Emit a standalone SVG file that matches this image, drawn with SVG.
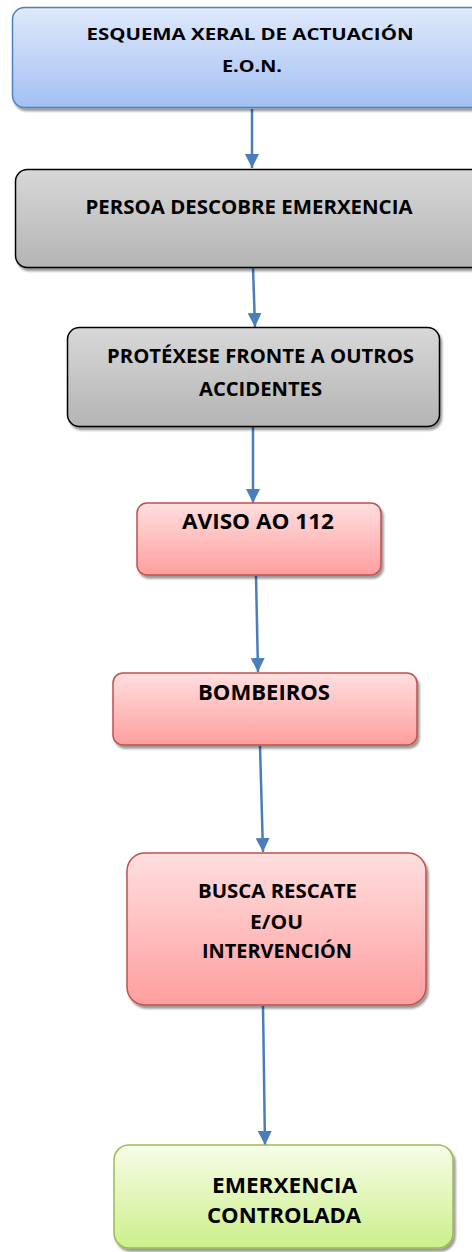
<svg xmlns="http://www.w3.org/2000/svg" width="472" height="1252" viewBox="0 0 472 1252">
<style>
  .t { font-family: "Open Sans", "Liberation Sans", sans-serif; font-weight: bold; fill: #000; text-anchor: middle; }
  .c { stroke: #4a7ebb; stroke-width: 2.5; fill: none; marker-end: url(#ah); }
  .blue { fill: url(#gBlue); stroke: #4f81bd; stroke-width: 1.5; }
  .gray { fill: url(#gGray); stroke: #000; stroke-width: 1.5; }
  .pink { fill: url(#gPink); stroke: #c0504d; stroke-width: 1.5; }
  .green { fill: url(#gGreen); stroke: #9bbb59; stroke-width: 1.5; }
</style>
<defs>
  <linearGradient id="gBlue" x1="0" y1="0" x2="0" y2="1"><stop offset="0" stop-color="#dfe9fb"/><stop offset="1" stop-color="#a3c0f3"/></linearGradient>
  <linearGradient id="gGray" x1="0" y1="0" x2="0" y2="1"><stop offset="0" stop-color="#d8d8d8"/><stop offset="1" stop-color="#b4b4b4"/></linearGradient>
  <linearGradient id="gPink" x1="0" y1="0" x2="0" y2="1"><stop offset="0" stop-color="#ffdfdf"/><stop offset="1" stop-color="#ff9e9e"/></linearGradient>
  <linearGradient id="gGreen" x1="0" y1="0" x2="0" y2="1"><stop offset="0" stop-color="#f6fde9"/><stop offset="1" stop-color="#cdef8a"/></linearGradient>
  <filter id="sh" x="-10%" y="-10%" width="130%" height="140%">
    <feDropShadow dx="2" dy="3" stdDeviation="1" flood-color="#000" flood-opacity="0.4"/>
  </filter>
  <marker id="ah" markerUnits="userSpaceOnUse" markerWidth="14" markerHeight="14" viewBox="0 0 14 14" refX="14" refY="7" orient="auto">
    <path d="M0,0 L14,7 L0,14 Z" fill="#4a7ebb"/>
  </marker>
</defs>

<g id="connectors">
  <path class="c" d="M252,109 L252,168"/>
  <path class="c" d="M253,268 L255,327"/>
  <path class="c" d="M253,427 L253,503"/>
  <path class="c" d="M256,576 L258,672"/>
  <path class="c" d="M260,746 L263,852"/>
  <path class="c" d="M263,1006 L265,1145"/>
</g>

<g id="n1">
  <rect class="blue" x="12.5" y="7.5" width="480" height="100" rx="12" filter="url(#sh)"/>
  <text class="t" x="250" y="40" font-size="16.5" textLength="327" lengthAdjust="spacingAndGlyphs">ESQUEMA XERAL DE ACTUACIÓN</text>
  <text class="t" x="252" y="72" font-size="16.5" textLength="60" lengthAdjust="spacingAndGlyphs">E.O.N.</text>
</g>

<g id="n2">
  <rect class="gray" x="15.5" y="169.5" width="480" height="98" rx="12" filter="url(#sh)"/>
  <text class="t" x="249" y="214" font-size="20" textLength="327" lengthAdjust="spacingAndGlyphs">PERSOA DESCOBRE EMERXENCIA</text>
</g>

<g id="n3">
  <rect class="gray" x="67.5" y="327.5" width="372" height="99" rx="12" filter="url(#sh)"/>
  <text class="t" x="260.5" y="363" font-size="20" textLength="307" lengthAdjust="spacingAndGlyphs">PROTÉXESE FRONTE A OUTROS</text>
  <text class="t" x="260.5" y="396" font-size="20" textLength="123" lengthAdjust="spacingAndGlyphs">ACCIDENTES</text>
</g>

<g id="n4">
  <rect class="pink" x="137" y="503" width="244" height="72" rx="10" filter="url(#sh)"/>
  <text class="t" x="258" y="529" font-size="20.5" textLength="152" lengthAdjust="spacingAndGlyphs">AVISO AO 112</text>
</g>

<g id="n5">
  <rect class="pink" x="113" y="673" width="304" height="72" rx="10" filter="url(#sh)"/>
  <text class="t" x="264" y="700" font-size="21" textLength="132" lengthAdjust="spacingAndGlyphs">BOMBEIROS</text>
</g>

<g id="n6">
  <rect class="pink" x="127" y="853" width="299" height="152" rx="18" filter="url(#sh)"/>
  <text class="t" x="277.5" y="898" font-size="20" textLength="159" lengthAdjust="spacingAndGlyphs">BUSCA RESCATE</text>
  <text class="t" x="276.5" y="929" font-size="20" textLength="53" lengthAdjust="spacingAndGlyphs">E/OU</text>
  <text class="t" x="277" y="958" font-size="20" textLength="150" lengthAdjust="spacingAndGlyphs">INTERVENCIÓN</text>
</g>

<g id="n7">
  <rect class="green" x="114" y="1145" width="339" height="103" rx="15" filter="url(#sh)"/>
  <text class="t" x="284.5" y="1193" font-size="21.5" textLength="145" lengthAdjust="spacingAndGlyphs">EMERXENCIA</text>
  <text class="t" x="284" y="1223" font-size="21.5" textLength="154" lengthAdjust="spacingAndGlyphs">CONTROLADA</text>
</g>
</svg>
